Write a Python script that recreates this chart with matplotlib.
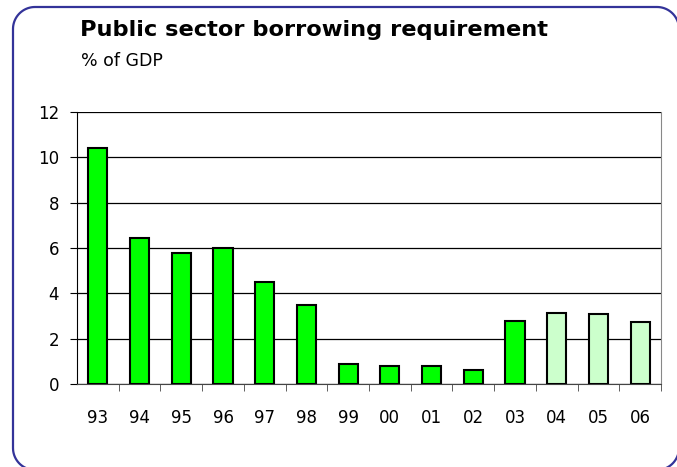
import numpy as np
import matplotlib.pyplot as plt
from matplotlib.patches import PathPatch
from matplotlib.path import Path
from matplotlib.transforms import Affine2D

years = ['93', '94', '95', '96', '97', '98', '99', '00', '01', '02', '03', '04', '05', '06']
psbr = [10.4, 6.45, 5.8, 6.0, 4.5, 3.5, 0.87, 0.78, 0.78, 0.6, 2.8, 3.15, 3.08, 2.75]
forecast = [False] * 11 + [True] * 3

plt.rcParams['font.family'] = ['DejaVu Sans']

fig = plt.figure(figsize=(6.77, 4.67), dpi=100)
W, H = 677, 467


def rounded_rect(x0, y0, x1, y1, r, n=20):
    # corners in pixel units, y pointing up
    pts = []
    for cx, cy, a0 in [(x1 - r, y1 - r, 0), (x0 + r, y1 - r, 90),
                       (x0 + r, y0 + r, 180), (x1 - r, y0 + r, 270)]:
        a = np.radians(np.linspace(a0, a0 + 90, n))
        pts += list(zip(cx + r * np.cos(a), cy + r * np.sin(a)))
    pts.append(pts[0])
    return Path(pts)


# frame runs slightly off the right and bottom edges, like the original
px = Affine2D().scale(1 / W, 1 / H) + fig.transFigure
frame = PathPatch(rounded_rect(13, -3, 679, H - 7, 22), transform=px,
                  fill=False, edgecolor='#333399', linewidth=1.6)
fig.patches.append(frame)

fig.text(80 / W, 1 - 30 / H, 'Public sector borrowing requirement',
         fontsize=16.2, fontweight='bold', va='center', ha='left')
fig.text(81 / W, 1 - 61 / H, '% of GDP', fontsize=12.5, va='center', ha='left')

ax = fig.add_axes([77 / W, 1 - 384 / H, 584 / W, 272 / H])
x = list(range(len(years)))
colors = ['#ccffcc' if f else '#00ff00' for f in forecast]
ax.bar(x, psbr, width=0.46, color=colors, edgecolor='black', linewidth=1.5, zorder=3)

ax.set_xlim(-0.5, len(years) - 0.5)
ax.set_ylim(0, 12)
ax.set_yticks(range(0, 13, 2))
ax.yaxis.grid(True, color='black', linewidth=0.9)
ax.set_axisbelow(True)
ax.set_xticks(x)
ax.set_xticklabels(years)
ax.set_xticks([i + 0.5 for i in x], minor=True)
ax.tick_params(axis='x', which='major', length=0, pad=18, labelsize=12)
ax.tick_params(axis='x', which='minor', length=5, color='#444444')
ax.tick_params(axis='y', length=5, pad=8, labelsize=12)
ax.spines['top'].set_visible(False)
ax.spines['right'].set_color('#888888')
ax.spines['left'].set_color('black')
ax.spines['bottom'].set_color('#444444')

fig.savefig('out.png', dpi=100)
